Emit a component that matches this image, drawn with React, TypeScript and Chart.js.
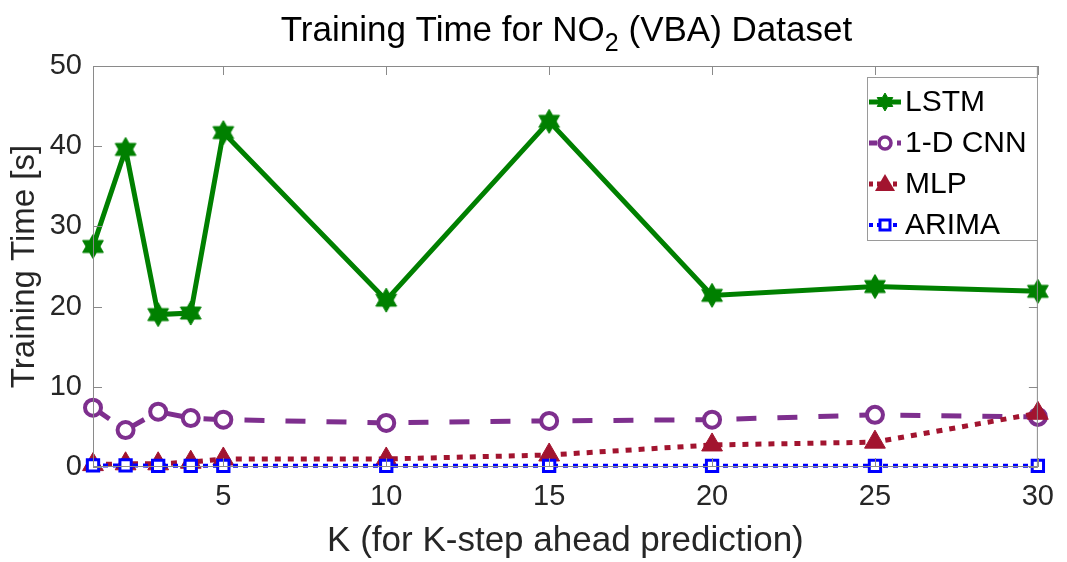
import React, { useEffect, useRef } from 'react';
import { Chart, registerables } from 'chart.js';

Chart.register(...registerables);

// ---- data ----
const kValues = [1, 2, 3, 4, 5, 10, 15, 20, 25, 30];
const lstmTimes = [27.5, 39.6, 19.0, 19.2, 41.7, 20.8, 43.1, 21.4, 22.5, 21.9];
const cnnTimes = [7.4, 4.6, 6.9, 6.1, 5.9, 5.5, 5.75, 5.9, 6.5, 6.25];
const mlpTimes = [0.3, 0.4, 0.4, 0.6, 1.0, 1.0, 1.5, 2.75, 3.1, 6.7];
const arimaTimes = [0.2, 0.2, 0.15, 0.15, 0.15, 0.15, 0.15, 0.15, 0.15, 0.15];
const seriesNames = ['LSTM', '1-D CNN', 'MLP', 'ARIMA'];
const xTicks = [5, 10, 15, 20, 25, 30];
const yTicks = [0, 10, 20, 30, 40, 50];
const titleMain = 'Training Time for NO';
const titleSub = '2';
const titleRest = ' (VBA) Dataset';
const xTitle = 'K (for K-step ahead prediction)';
const yTitle = 'Training Time [s]';

const FONT = '"Liberation Sans", Arial, Helvetica, sans-serif';
const GREEN = '#008000';
const PURPLE = '#7E2F8E';
const RED = '#A2142F';
const BLUE = '#0000FF';
const AXIS = '#8a8a8a';
const TEXT = '#262626';

function makeHexagram(outer: number, color: string): HTMLCanvasElement {
  const size = Math.ceil(outer * 2 + 2);
  const c = document.createElement('canvas');
  c.width = size;
  c.height = size;
  const ctx = c.getContext('2d')!;
  const cx = size / 2;
  const cy = size / 2;
  const inner = outer / Math.sqrt(3);
  ctx.beginPath();
  for (let i = 0; i < 12; i++) {
    const r = i % 2 === 0 ? outer : inner;
    const a = -Math.PI / 2 + (i * Math.PI) / 6;
    const px = cx + r * Math.cos(a);
    const py = cy + r * Math.sin(a);
    if (i === 0) ctx.moveTo(px, py);
    else ctx.lineTo(px, py);
  }
  ctx.closePath();
  ctx.fillStyle = color;
  ctx.fill();
  ctx.strokeStyle = color;
  ctx.lineWidth = 1;
  ctx.stroke();
  return c;
}

export default function App() {
  const ref = useRef<HTMLCanvasElement | null>(null);

  useEffect(() => {
    if (!ref.current) return;
    const star = makeHexagram(12, GREEN);
    const starSmall = makeHexagram(9, GREEN);

    const frame = {
      id: 'frameAndExtras',
      afterDatasetsDraw(chart: any) {
        const { ctx, chartArea: a, scales } = chart;
        const xs = scales.x;
        const ys = scales.y;
        ctx.save();
        // box
        ctx.strokeStyle = AXIS;
        ctx.lineWidth = 1;
        ctx.strokeRect(a.left + 0.5, a.top + 0.5, a.right - a.left - 1, a.bottom - a.top - 1);
        // inward ticks
        const tl = 9;
        ctx.beginPath();
        xTicks.forEach((v) => {
          const px = Math.round(xs.getPixelForValue(v)) + 0.5;
          ctx.moveTo(px, a.bottom);
          ctx.lineTo(px, a.bottom - tl);
          ctx.moveTo(px, a.top);
          ctx.lineTo(px, a.top + tl);
        });
        yTicks.forEach((v) => {
          const py = Math.round(ys.getPixelForValue(v)) + 0.5;
          ctx.moveTo(a.left, py);
          ctx.lineTo(a.left + tl, py);
          ctx.moveTo(a.right, py);
          ctx.lineTo(a.right - tl, py);
        });
        ctx.stroke();

        // legend
        const lx = 867, ly = 77, lw = 170, lh = 163;
        ctx.fillStyle = '#ffffff';
        ctx.fillRect(lx, ly, lw, lh);
        ctx.strokeStyle = '#9a9a9a';
        ctx.lineWidth = 1;
        ctx.strokeRect(lx + 0.5, ly + 0.5, lw, lh);
        const rows = [102, 143, 184, 225];
        chart.data.datasets.forEach((ds: any, i: number) => {
          const y = rows[i];
          ctx.save();
          ctx.strokeStyle = ds.borderColor;
          ctx.lineWidth = ds.borderWidth;
          ctx.setLineDash(i === 0 ? [] : i === 1 ? [8, 6] : i === 2 ? [4, 4] : [4, 4]);
          ctx.beginPath();
          ctx.moveTo(869, y);
          ctx.lineTo(901, y);
          ctx.stroke();
          ctx.setLineDash([]);
          const mx = 885;
          if (i === 0) {
            ctx.drawImage(starSmall, mx - starSmall.width / 2, y - starSmall.height / 2);
          } else if (i === 1) {
            ctx.beginPath();
            ctx.arc(mx, y, 6, 0, Math.PI * 2);
            ctx.fillStyle = '#fff';
            ctx.fill();
            ctx.lineWidth = 3.5;
            ctx.strokeStyle = PURPLE;
            ctx.stroke();
          } else if (i === 2) {
            ctx.beginPath();
            ctx.moveTo(mx, y - 10);
            ctx.lineTo(mx + 10, y + 7);
            ctx.lineTo(mx - 10, y + 7);
            ctx.closePath();
            ctx.fillStyle = RED;
            ctx.fill();
          } else {
            ctx.fillStyle = '#fff';
            ctx.fillRect(mx - 5, y - 5, 10, 10);
            ctx.lineWidth = 3;
            ctx.strokeStyle = BLUE;
            ctx.strokeRect(mx - 5, y - 5, 10, 10);
          }
          ctx.fillStyle = '#000';
          ctx.font = `30px ${FONT}`;
          ctx.textBaseline = 'middle';
          ctx.textAlign = 'left';
          ctx.fillText(seriesNames[i], 905, y + 1);
          ctx.restore();
        });

        // title with subscript
        const cx = (a.left + a.right) / 2 + 1;
        const big = `35px ${FONT}`;
        const small = `25px ${FONT}`;
        ctx.font = big;
        const w1 = ctx.measureText(titleMain).width;
        const w3 = ctx.measureText(titleRest).width;
        ctx.font = small;
        const w2 = ctx.measureText(titleSub).width;
        const total = w1 + w2 + w3;
        let x0 = cx - total / 2;
        const base = 41;
        ctx.fillStyle = '#000';
        ctx.textAlign = 'left';
        ctx.textBaseline = 'alphabetic';
        ctx.font = big;
        ctx.fillText(titleMain, x0, base);
        x0 += w1;
        ctx.font = small;
        ctx.fillText(titleSub, x0, base + 10);
        x0 += w2;
        ctx.font = big;
        ctx.fillText(titleRest, x0, base);
        ctx.restore();
      },
    };

    const chart = new Chart(ref.current, {
      type: 'line',
      data: {
        datasets: [
          {
            label: seriesNames[0],
            data: kValues.map((k, i) => ({ x: k, y: lstmTimes[i] })),
            borderColor: GREEN,
            backgroundColor: GREEN,
            borderWidth: 5,
            pointStyle: star,
            pointRadius: 12,
            order: 4,
            clip: false,
          },
          {
            label: seriesNames[1],
            data: kValues.map((k, i) => ({ x: k, y: cnnTimes[i] })),
            borderColor: PURPLE,
            backgroundColor: '#ffffff',
            borderWidth: 5,
            borderDash: [20, 21],
            pointStyle: 'circle',
            pointRadius: 8,
            pointBorderWidth: 4,
            order: 3,
            clip: false,
          },
          {
            label: seriesNames[2],
            data: kValues.map((k, i) => ({ x: k, y: mlpTimes[i] })),
            borderColor: RED,
            backgroundColor: RED,
            borderWidth: 5,
            borderDash: [6, 7],
            pointStyle: 'triangle',
            pointRadius: 12,
            pointBorderWidth: 1,
            order: 2,
            clip: false,
          },
          {
            label: seriesNames[3],
            data: kValues.map((k, i) => ({ x: k, y: arimaTimes[i] })),
            borderColor: BLUE,
            backgroundColor: '#ffffff',
            borderWidth: 4,
            borderDash: [5, 5],
            pointStyle: 'rect',
            pointRadius: 8,
            pointBorderWidth: 3,
            order: 1,
            clip: false,
          },
        ] as any,
      },
      options: {
        animation: false,
        responsive: false,
        events: [],
        layout: { padding: { top: 66, right: 20, bottom: 0, left: 0 } },
        plugins: {
          legend: { display: false },
          title: { display: false },
          tooltip: { enabled: false },
        },
        elements: { line: { tension: 0 } },
        scales: {
          x: {
            type: 'linear',
            min: 1,
            max: 30,
            afterBuildTicks: (s: any) => {
              s.ticks = xTicks.map((v) => ({ value: v }));
            },
            afterFit: (s: any) => {
              s.height = 95;
            },
            grid: { display: false, drawTicks: false },
            border: { display: false },
            ticks: {
              color: TEXT,
              font: { family: FONT, size: 29 },
              padding: 13,
              maxRotation: 0,
              autoSkip: false,
            },
            title: {
              display: true,
              text: xTitle,
              color: TEXT,
              font: { family: FONT, size: 35 },
              padding: { top: 0, bottom: 0 },
            },
          },
          y: {
            type: 'linear',
            min: 0,
            max: 50,
            afterBuildTicks: (s: any) => {
              s.ticks = yTicks.map((v) => ({ value: v }));
            },
            afterFit: (s: any) => {
              s.width = 93;
            },
            grid: { display: false, drawTicks: false },
            border: { display: false },
            ticks: {
              color: TEXT,
              font: { family: FONT, size: 29 },
              padding: 11,
            },
            title: {
              display: true,
              text: yTitle,
              color: TEXT,
              font: { family: FONT, size: 33 },
              padding: { top: 5, bottom: 0 },
            },
          },
        },
      } as any,
      plugins: [frame],
    });
    return () => chart.destroy();
  }, []);

  return (
    <div style={{ position: 'fixed', left: 0, top: 0, width: 1067, height: 562, background: '#fff' }}>
      <canvas ref={ref} width={1067} height={562} style={{ display: 'block' }} />
    </div>
  );
}
